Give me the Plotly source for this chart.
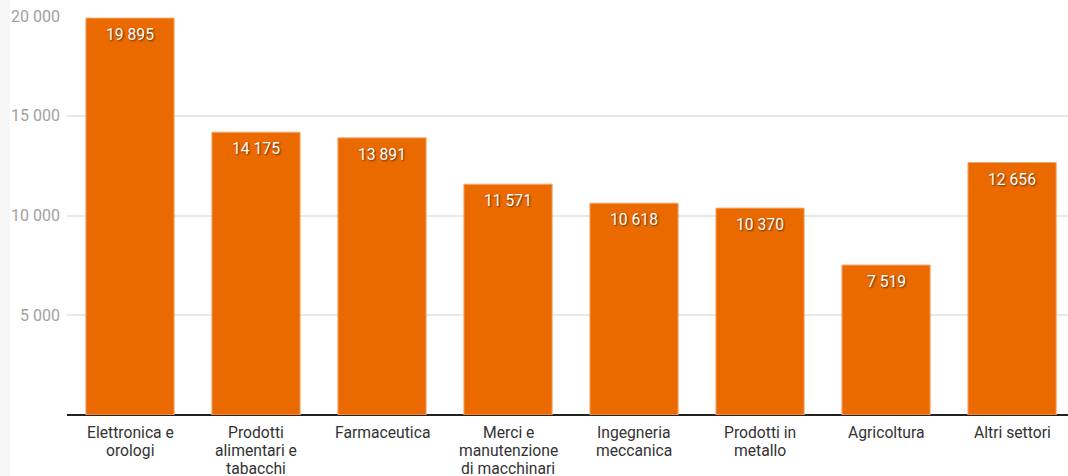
import plotly.graph_objects as go

categories = ["Elettronica e<br>orologi", "Prodotti<br>alimentari e<br>tabacchi", "Farmaceutica",
              "Merci e<br>manutenzione<br>di macchinari", "Ingegneria<br>meccanica", "Prodotti in<br>metallo",
              "Agricoltura", "Altri settori"]
values = [19895, 14175, 13891, 11571, 10618, 10370, 7519, 12656]
labels = ["19 895", "14 175", "13 891", "11 571", "10 618", "10 370", "7 519", "12 656"]
y_tickvals = [5000, 10000, 15000, 20000]
y_ticktext = ["5 000", "10 000", "15 000", "20 000"]

fig = go.Figure()
fig.add_trace(go.Bar(
    x=list(range(len(categories))), y=values,
    marker=dict(color="#EB6A00", line=dict(color="#F5A870", width=1)),
    hoverinfo="skip",
))

for i, (v, t) in enumerate(zip(values, labels)):
    fig.add_annotation(x=i, y=v, text=t, showarrow=False, yanchor="top", yshift=-5,
                       font=dict(family="Roboto", size=15.7, color="white",
                                 shadow="1px 1px 2px rgba(0,0,0,0.6)"))

# category labels, one line each, with tighter line spacing
for i, cat in enumerate(categories):
    for j, line in enumerate(cat.split("<br>")):
        fig.add_annotation(x=i, y=0, text=line, showarrow=False, yanchor="middle",
                           yshift=-(17 + 18 * j), xanchor="center",
                           font=dict(family="Roboto", size=15.7, color="#333333"))

fig.add_shape(type="rect", xref="paper", yref="paper", x0=-67/1001, x1=-57/1001, y0=-1, y1=2,
              fillcolor="#F7F7F7", line=dict(width=0), layer="below")

fig.update_layout(
    width=1068, height=476,
    margin=dict(l=67, r=0, t=16, b=61, autoexpand=False),
    paper_bgcolor="white", plot_bgcolor="white",
    showlegend=False, bargap=0.3,
    font=dict(family="Roboto", size=14, color="#333333"),
    xaxis=dict(tickvals=list(range(len(categories))), range=[-0.5, 7.444],
               showticklabels=False,
               showgrid=False, showline=False, ticks="", zeroline=False,
               automargin=False, fixedrange=True),
    yaxis=dict(range=[0, 20000], tickvals=y_tickvals, ticktext=y_ticktext,
               showgrid=True, gridcolor="#E8E8E8", gridwidth=1.5,
               zeroline=True, zerolinecolor="#222222", zerolinewidth=1.5,
               showline=False, ticks="", ticklabelstandoff=6, automargin=False,
               tickfont=dict(size=16, color="#A0A0A0"), fixedrange=True),
)

fig.write_html("out.html", config={"displayModeBar": False},
               post_script="document.body.style.margin='0';document.body.style.overflow='hidden';")
